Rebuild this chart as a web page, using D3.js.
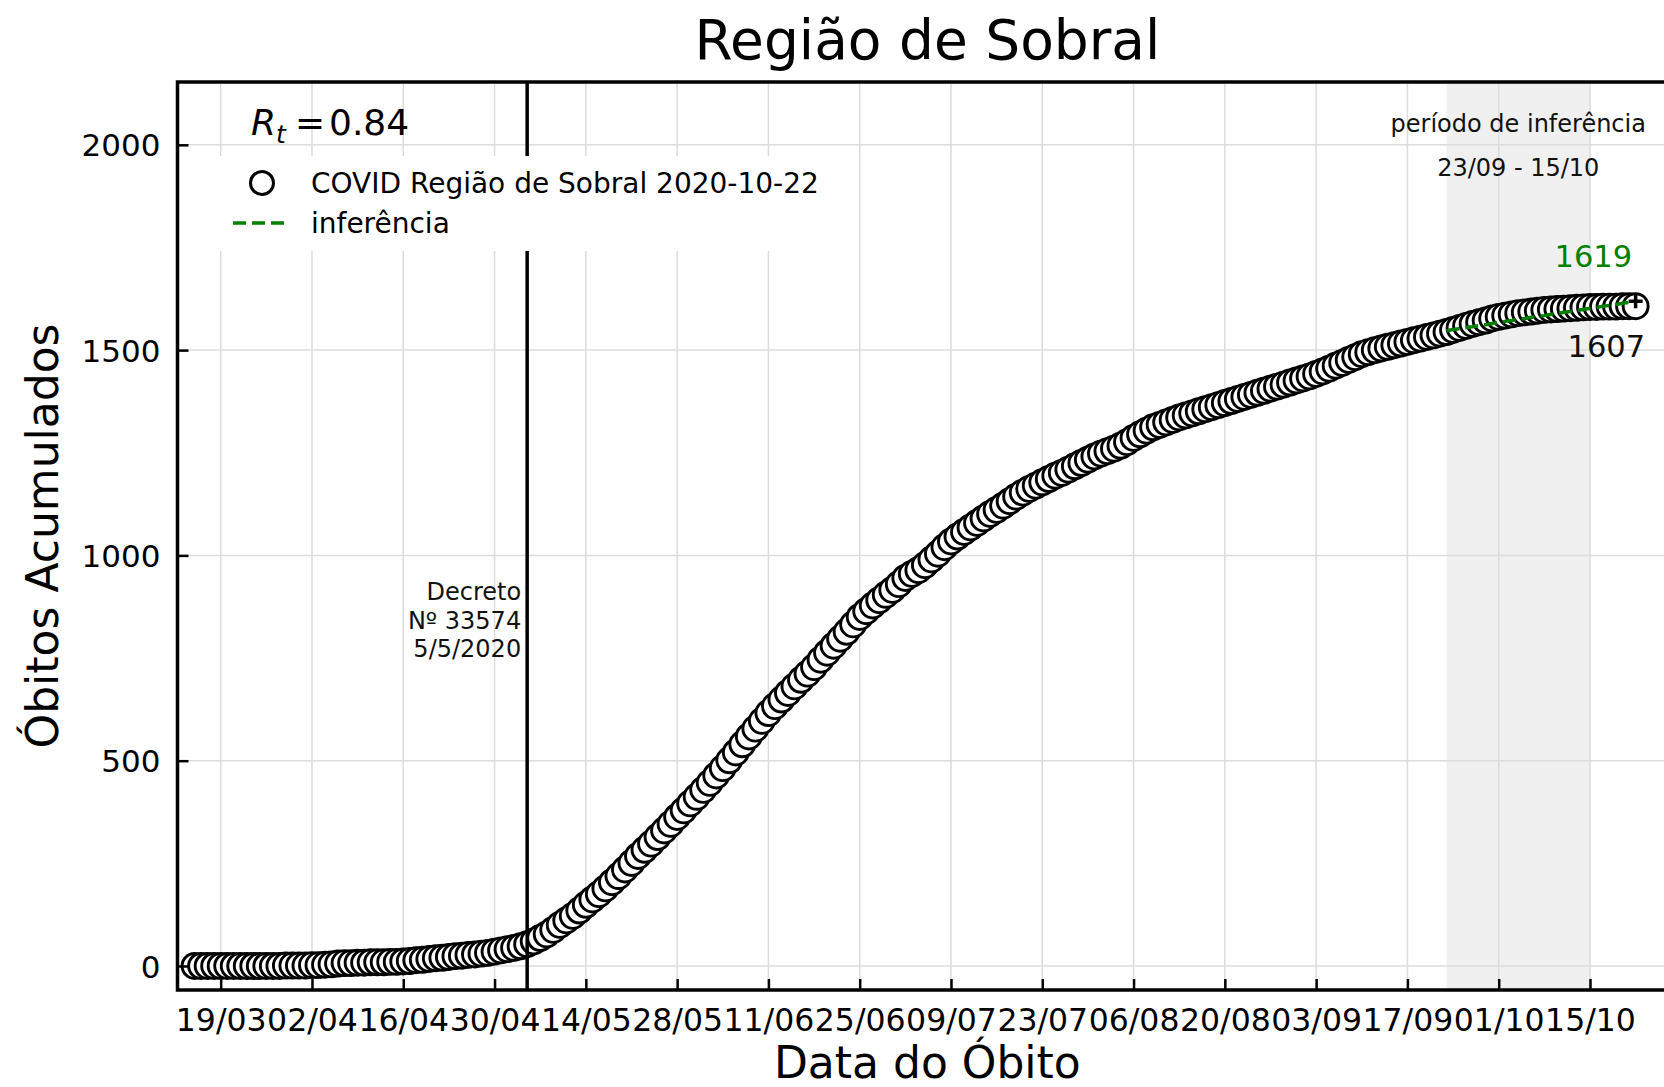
<!DOCTYPE html>
<html lang="pt">
  <head>
    <meta charset="UTF-8" />
    <title>Região de Sobral</title>
    <script src="https://cdn.jsdelivr.net/npm/d3@7"></script>
    <style>
      body { margin: 0; background: #fff; }
      svg { display: block; font-family: "DejaVu Sans", sans-serif; }
    </style>
  </head>
  <body>
    <svg width="1664" height="1087"></svg>
    <script>
      // daily cumulative deaths, 15/03/2020 .. 22/10/2020
      const firstDay = Date.UTC(2020, 2, 15);
      const obitos = [
        // março 15-31
        0,0,0,0,0,0,0,0,0,0,0,0,0,0,1,1,1,
        // abril
        1,2,2,3,4,6,7,7,8,8,9,9,9,10,10,11,12,14,15,17,19,20,22,24,25,27,28,30,32,35,
        // maio
        38,41,44,48,53,60,68,77,88,100,111,122,135,149,162,175,189,204,219,235,251,268,283,298,314,330,346,363,379,396,412,
        // junho
        429,446,464,482,501,520,540,559,578,597,616,633,649,665,681,697,712,728,746,763,780,797,814,832,850,864,878,891,904,916,
        // julho
        930,945,955,964,976,990,1004,1020,1034,1046,1057,1068,1079,1090,1101,1111,1121,1132,1143,1153,1162,1170,1178,1186,1194,1201,1209,1217,1225,1233,1241,
        // agosto
        1248,1254,1260,1267,1276,1286,1295,1304,1312,1318,1324,1330,1336,1341,1346,1351,1356,1361,1366,1371,1376,1381,1386,1391,1396,1401,1406,1411,1416,1421,1426,
        // setembro
        1431,1436,1442,1448,1455,1462,1469,1476,1483,1490,1495,1500,1504,1508,1512,1516,1520,1524,1528,1532,1536,1540,1544,1549,1554,1559,1564,1568,1572,1577,
        // outubro 1-22
        1581,1584,1587,1590,1592,1594,1596,1598,1599,1600,1601,1602,1603,1604,1605,1605,1606,1606,1606,1607,1607,1607
      ];
      // inference 23/09 .. 22/10
      const inferStart = Date.UTC(2020, 8, 23);
      const inferencia = [1547,1550,1552,1555,1557,1560,1562,1565,1567,1570,1572,1575,1577,1580,1582,1584,1587,1589,1592,1594,1597,1599,1602,1604,1607,1609,1611,1614,1616,1619];
      const xTicks = ["2020-03-19","2020-04-02","2020-04-16","2020-04-30","2020-05-14","2020-05-28","2020-06-11","2020-06-25","2020-07-09","2020-07-23","2020-08-06","2020-08-20","2020-09-03","2020-09-17","2020-10-01","2020-10-15"];
      const yTicks = [0, 500, 1000, 1500, 2000];
      const decreto = "2020-05-05";
      const periodo = ["2020-09-23", "2020-10-15"];
      const rt = "0.84";

      const DAY = 864e5;
      const pts = obitos.map((v, i) => ({ date: new Date(firstDay + i * DAY), v }));
      const inf = inferencia.map((v, i) => ({ date: new Date(inferStart + i * DAY), v }));

      const svg = d3.select("svg");
      const pTop = 82, pBottom = 990;
      const x = d3.scaleUtc()
        .domain([new Date(Date.UTC(2020, 2, 12, 9)), new Date(Date.UTC(2020, 9, 28, 9))])
        .range([177.5, 1677.2]);
      const y = d3.scaleLinear().domain([-58.5, 2153]).range([pBottom, pTop]);
      const pLeft = x.range()[0], pRight = x.range()[1];

      svg.append("clipPath").attr("id", "plot")
        .append("rect").attr("x", pLeft).attr("y", pTop)
        .attr("width", pRight - pLeft).attr("height", pBottom - pTop);

      const plot = svg.append("g").attr("clip-path", "url(#plot)");

      // inference period shading
      plot.append("rect")
        .attr("x", x(new Date(periodo[0]))).attr("y", pTop)
        .attr("width", x(new Date(periodo[1])) - x(new Date(periodo[0])))
        .attr("height", pBottom - pTop)
        .attr("fill", "#f0f0f0");

      // grid
      const tickDates = xTicks.map(d => new Date(d));
      plot.append("g").selectAll("line").data(tickDates).join("line")
        .attr("x1", d => x(d)).attr("x2", d => x(d))
        .attr("y1", pTop).attr("y2", pBottom)
        .attr("stroke", "#dcdcdc").attr("stroke-width", 1.5);
      plot.append("g").selectAll("line").data(yTicks).join("line")
        .attr("x1", pLeft).attr("x2", pRight)
        .attr("y1", d => y(d)).attr("y2", d => y(d))
        .attr("stroke", "#dcdcdc").attr("stroke-width", 1.5);

      // data
      plot.append("g").selectAll("circle").data(pts).join("circle")
        .attr("cx", d => x(d.date)).attr("cy", d => y(d.v))
        .attr("r", 12.5)
        .attr("fill", "#fff").attr("stroke", "#000").attr("stroke-width", 2.9);

      // inference line
      plot.append("path").datum(inf)
        .attr("d", d3.line().x(d => x(d.date)).y(d => y(d.v)))
        .attr("fill", "none").attr("stroke", "green")
        .attr("stroke-width", 3.5).attr("stroke-dasharray", "13,6");

      const lastInf = inf[inf.length - 1];
      plot.append("path")
        .attr("transform", `translate(${x(lastInf.date)},${y(lastInf.v)})`)
        .attr("d", "M-7,0H7M0,-7V7")
        .attr("stroke", "#000").attr("stroke-width", 3.5);

      // decree line
      const xd = x(new Date(decreto));
      plot.append("line")
        .attr("x1", xd).attr("x2", xd).attr("y1", pTop).attr("y2", pBottom)
        .attr("stroke", "#000").attr("stroke-width", 3.5);

      // legend box
      const lg = svg.append("g");
      lg.append("rect").attr("x", 212).attr("y", 156).attr("width", 621).attr("height", 95).attr("fill", "#fff");
      lg.append("circle").attr("cx", 262).attr("cy", 183).attr("r", 11.5)
        .attr("fill", "#fff").attr("stroke", "#000").attr("stroke-width", 3);
      lg.append("line").attr("x1", 233).attr("x2", 290).attr("y1", 223).attr("y2", 223)
        .attr("stroke", "green").attr("stroke-width", 3.5).attr("stroke-dasharray", "13,6");
      lg.append("text").attr("x", 311).attr("y", 193).attr("font-size", 28)
        .text("COVID Região de Sobral 2020-10-22");
      lg.append("text").attr("x", 311).attr("y", 233).attr("font-size", 28)
        .text("inferência");

      // axes
      const xAxis = svg.append("g").attr("transform", `translate(0,${pBottom})`)
        .call(d3.axisBottom(x).tickValues(tickDates).tickSize(-11).tickPadding(18)
          .tickFormat(d3.utcFormat("%d/%m")));
      xAxis.select(".domain").remove();
      xAxis.selectAll("line").attr("stroke", "#000").attr("stroke-width", 2.5);
      xAxis.selectAll("text").attr("font-size", 31.5).attr("fill", "#000")
        .attr("font-family", "DejaVu Sans").attr("dy", null).attr("y", 40.5);

      const yAxis = svg.append("g").attr("transform", `translate(${pLeft},0)`)
        .call(d3.axisLeft(y).tickValues(yTicks).tickSize(-11).tickPadding(17).tickFormat(d3.format("d")));
      yAxis.select(".domain").remove();
      yAxis.selectAll("line").attr("stroke", "#000").attr("stroke-width", 2.5);
      yAxis.selectAll("text").attr("font-size", 31).attr("fill", "#000")
        .attr("font-family", "DejaVu Sans").attr("dy", "0.36em");

      // frame
      svg.append("rect").attr("x", pLeft).attr("y", pTop)
        .attr("width", pRight - pLeft).attr("height", pBottom - pTop)
        .attr("fill", "none").attr("stroke", "#000").attr("stroke-width", 3.5);

      // texts
      const rtText = svg.append("text").attr("x", 251).attr("y", 135).attr("font-size", 36);
      rtText.append("tspan").attr("font-style", "italic").text("R");
      rtText.append("tspan").attr("font-style", "italic").attr("font-size", 25).attr("dy", 8).text("t");
      rtText.append("tspan").attr("x", 295).attr("dy", -8).text("=");
      rtText.append("tspan").attr("x", 329).text(rt);

      const xmid = (x(new Date(periodo[0])) + x(new Date(periodo[1]))) / 2;
      svg.append("text").attr("x", xmid).attr("y", 132).attr("font-size", 24)
        .attr("text-anchor", "middle").attr("fill", "#111").text("período de inferência");
      svg.append("text").attr("x", xmid).attr("y", 176).attr("font-size", 24)
        .attr("text-anchor", "middle").attr("fill", "#111")
        .text(d3.utcFormat("%d/%m")(new Date(periodo[0])) + " - " + d3.utcFormat("%d/%m")(new Date(periodo[1])));

      ["Decreto", "Nº 33574", "5/5/2020"].forEach((t, i) => {
        svg.append("text").attr("x", xd - 6).attr("y", 600 + i * 28.5)
          .attr("font-size", 24).attr("text-anchor", "end").attr("fill", "#111").text(t);
      });

      const last = pts[pts.length - 1];
      svg.append("text").attr("x", x(last.date) - 3.5).attr("y", y(lastInf.v) - 34)
        .attr("font-size", 30.5).attr("text-anchor", "end").attr("fill", "green").text(lastInf.v);
      svg.append("text").attr("x", x(last.date) + 9.5).attr("y", y(last.v) + 51)
        .attr("font-size", 30.5).attr("text-anchor", "end").attr("fill", "#111").text(last.v);

      svg.append("text").attr("x", (pLeft + pRight) / 2).attr("y", 59).attr("font-size", 55)
        .attr("text-anchor", "middle").text("Região de Sobral");
      svg.append("text").attr("x", (pLeft + pRight) / 2).attr("y", 1078).attr("font-size", 44)
        .attr("text-anchor", "middle").text("Data do Óbito");
      svg.append("text").attr("transform", `translate(58,${(pTop + pBottom) / 2}) rotate(-90)`)
        .attr("font-size", 44).attr("text-anchor", "middle").text("Óbitos Acumulados");
    </script>
  </body>
</html>
